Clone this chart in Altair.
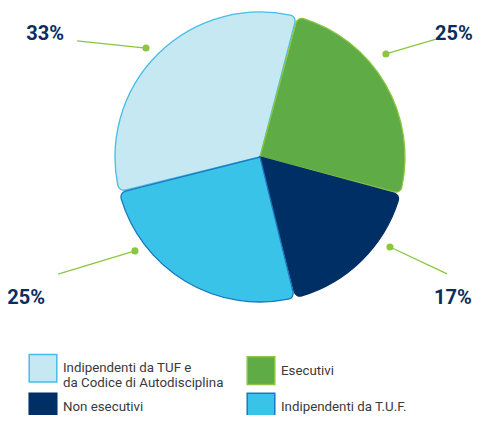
import math
import numpy as np
import pandas as pd
import altair as alt

# ---- data -------------------------------------------------------------
categories = [
    "Indipendenti da TUF e|da Codice di Autodisciplina",
    "Esecutivi",
    "Non esecutivi",
    "Indipendenti da T.U.F.",
]
values = [33, 25, 17, 25]
pct_labels = ["33%", "25%", "17%", "25%"]
pie_order = [3, 0, 1, 2]  # clockwise order starting near 12 o'clock

# annotation anchors (degrees clockwise from 12 o'clock, distance from centre)
dot_angle = [313.7, 50.7, 124.7, 233.1]
dot_dist = [157.7, 162.7, 158.1, 156.4]
end_angle = [302.4, 56.3, 122.0, 239.9]
end_dist = [216.7, 212.7, 220.6, 233.4]
lab_angle = [299.8, 57.6, 126.2, 238.9]
lab_dist = [247.7, 229.7, 239.0, 273.2]

# ---- styles -------------------------------------------------------------
fills = ["#c5e8f2", "#5fab45", "#002f66", "#39c3e8"]
strokes = ["#45bde6", "#8cc63f", "#002f66", "#1b78bf"]
start = math.radians(14.8)

pie_df = pd.DataFrame({"cat": categories, "value": values, "ord": pie_order})


def polar(a, r):
    a = np.radians(np.array(a))
    r = np.array(r)
    return r * np.sin(a), r * np.cos(a)


dx, dy = polar(dot_angle, dot_dist)
ex, ey = polar(end_angle, end_dist)
lx, ly = polar(lab_angle, lab_dist)
ann_df = pd.DataFrame({"cat": categories, "label": pct_labels,
                       "dx": dx, "dy": dy, "ex": ex, "ey": ey, "lx": lx, "ly": ly})

xs = alt.Scale(domain=[-252, 213], nice=False, zero=False)
ys = alt.Scale(domain=[-258, 149], nice=False, zero=False)

legend = alt.Legend(
    orient="none", legendX=20, legendY=345, columns=2, direction="horizontal",
    title=None,
    symbolType="square", symbolSize=760, symbolStrokeWidth=1.5,
    labelExpr="split(datum.label, '|')", labelFont="Roboto", labelFontSize=13.3,
    labelColor="#3a3a3a", labelOffset=5, labelLimit=400,
    columnPadding=20, rowPadding=0,
)

arcs = alt.Chart(pie_df).mark_arc(
    outerRadius=145, cornerRadius=6, padAngle=0.008, strokeWidth=1.3
).encode(
    theta=alt.Theta("value:Q", stack=True,
                    scale=alt.Scale(range=[start, start + 2 * math.pi])),
    color=alt.Color("cat:N", scale=alt.Scale(domain=categories, range=fills),
                    legend=legend),
    stroke=alt.Stroke("cat:N", scale=alt.Scale(domain=categories, range=strokes),
                      legend=None),
    order=alt.Order("ord:Q"),
    x=alt.datum(0, scale=xs, axis=None),
    y=alt.datum(0, scale=ys, axis=None),
)

rules = alt.Chart(ann_df).mark_rule(color="#8cc63f", strokeWidth=1.3).encode(
    x=alt.X("dx:Q", scale=xs, axis=None), y=alt.Y("dy:Q", scale=ys, axis=None),
    x2="ex:Q", y2="ey:Q",
)
dots = alt.Chart(ann_df).mark_circle(color="#8cc63f", opacity=1, size=50).encode(
    x=alt.X("dx:Q", scale=xs, axis=None), y=alt.Y("dy:Q", scale=ys, axis=None),
)
texts = alt.Chart(ann_df).mark_text(
    font="Roboto", fontSize=20, fontWeight="bold", color="#0b2d5e",
    baseline="middle", align="center",
).encode(
    x=alt.X("lx:Q", scale=xs, axis=None), y=alt.Y("ly:Q", scale=ys, axis=None),
    text="label:N",
)

chart = alt.layer(arcs, rules, dots, texts).properties(
    width=465, height=407, autosize="none", padding=0
).configure_view(stroke=None)

chart.save("out.html", embed_options={"renderer": "svg", "actions": False})
